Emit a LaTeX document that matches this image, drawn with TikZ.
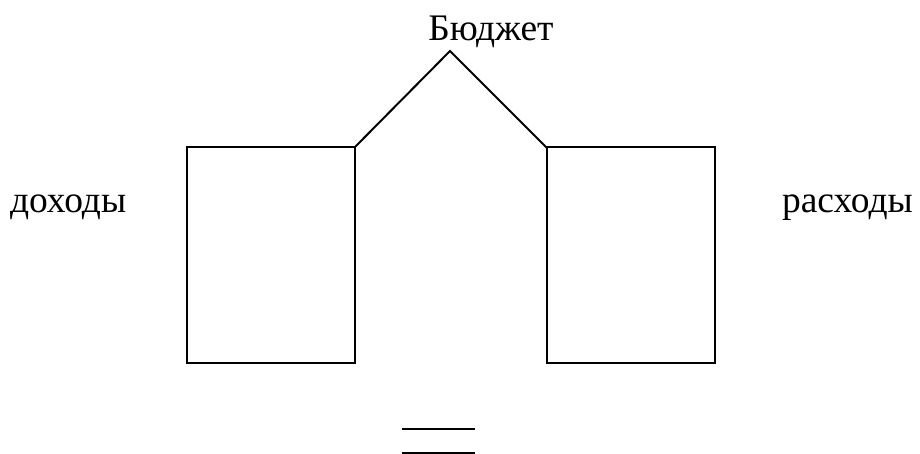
\documentclass[tikz,border=0pt]{standalone}
\usepackage{fontspec}
\setmainfont{Liberation Serif}
\begin{document}
\begin{tikzpicture}[x=1pt,y=-1pt,
  line width=2pt,
  box/.style={draw,line width=2pt,minimum width=168pt,minimum height=215pt,inner sep=0pt,outer sep=0pt},
  lbl/.style={font=\fontsize{37.5}{40}\selectfont,inner sep=0pt,anchor=base}]
\useasboundingbox (0,0) rectangle (920,454);
\node[box] (L) at (270.5,255) {};
\node[box] (R) at (630.5,255) {};
\coordinate (apex) at (450,51);
\draw[line join=miter] (L.north east) -- (apex) -- (R.north west);
\node[lbl] (budget) at (491,41) {Бюджет};
\node[lbl,anchor=base west] (inc) at (9,213) {доходы};
\node[lbl,anchor=base west] (exp) at (781,213) {расходы};
\draw (402,429) -- (475,429);
\draw (402,452.5) -- (475,452.5);
\end{tikzpicture}
\end{document}
